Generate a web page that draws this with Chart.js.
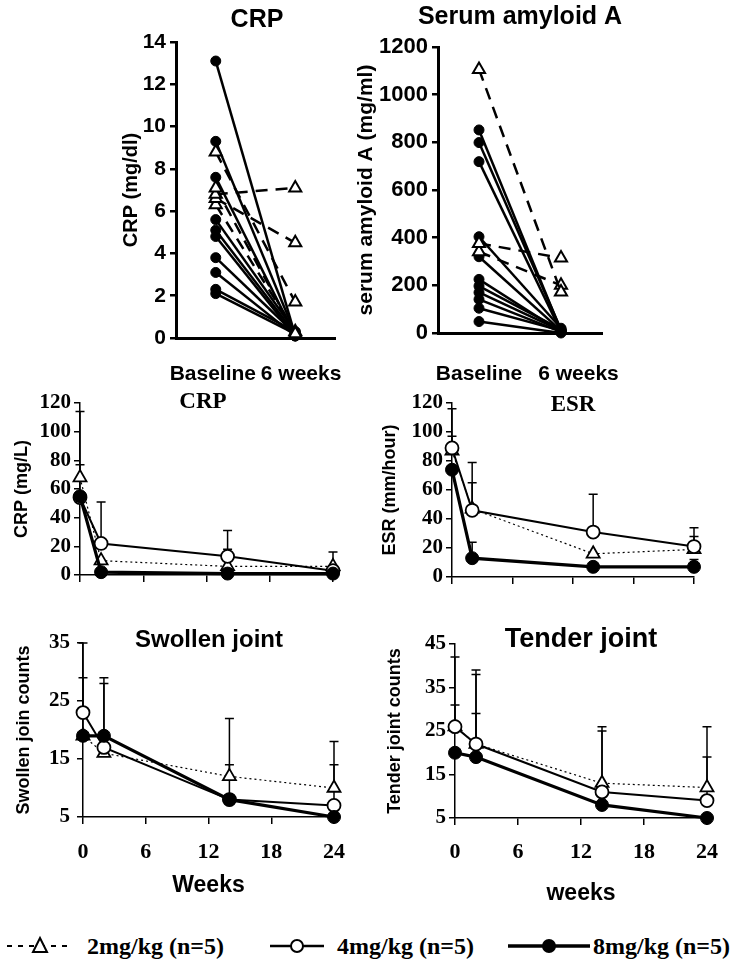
<!DOCTYPE html>
<html>
<head>
<meta charset="utf-8">
<title>CRP, SAA, ESR and joint counts by dose</title>
<script src="https://cdn.jsdelivr.net/npm/chart.js@4.4.1/dist/chart.umd.min.js"></script>
<style>
  html, body { margin: 0; padding: 0; background: #fff; }
  #page { position: relative; width: 735px; height: 966px; overflow: hidden; }
  #page canvas { position: absolute; }
  .legend-item {
    position: absolute; top: 932px; height: 28px;
    display: flex; align-items: center; white-space: nowrap;
    font: bold 24px 'Liberation Serif', 'Times New Roman', serif; color: #000;
  }
</style>
</head>
<body>
<div id="page">
  <canvas id="crpPair"></canvas>
  <canvas id="saaPair"></canvas>
  <canvas id="crpCourse"></canvas>
  <canvas id="esrCourse"></canvas>
  <canvas id="swollenCourse"></canvas>
  <canvas id="tenderCourse"></canvas>

  <div class="legend-item" style="left:5px">
    <svg width="70" height="24">
      <line x1="2" y1="12" x2="68" y2="12" stroke="#000" stroke-width="2" stroke-dasharray="5 6"/>
      <polygon points="35,4 42,18 28,18" fill="#fff" stroke="#000" stroke-width="2"/>
    </svg>
    <span style="margin-left:12px">2mg/kg (n=5)</span>
  </div>
  <div class="legend-item" style="left:268px">
    <svg width="58" height="24">
      <line x1="2" y1="12" x2="56" y2="12" stroke="#000" stroke-width="2.5"/>
      <circle cx="29" cy="12" r="6" fill="#fff" stroke="#000" stroke-width="2"/>
    </svg>
    <span style="margin-left:11px">4mg/kg (n=5)</span>
  </div>
  <div class="legend-item" style="left:507px">
    <svg width="84" height="24">
      <line x1="1" y1="12" x2="83" y2="12" stroke="#000" stroke-width="3.5"/>
      <circle cx="42" cy="12" r="7" fill="#000"/>
    </svg>
    <span style="margin-left:2px">8mg/kg (n=5)</span>
  </div>
</div>

<script>
const SANS = "'Liberation Sans', Arial, sans-serif";
const SERIF = "'Liberation Serif', 'Times New Roman', serif";

// paired panels: baseline vs 6 weeks, one line per patient
const pairLabels = ['Baseline', '6 weeks'];

const crpCircleBase = [13.1, 9.3, 7.6, 5.6, 5.1, 4.8, 3.8, 3.1, 2.3, 2.1];
const crpCircleWk6 = [0.1, 0.2, 0.1, 0.3, 0.2, 0.1, 0.2, 0.1, 0.3, 0.2];
const crpTriBase = [8.8, 7.1, 6.8, 6.6, 6.3];
const crpTriWk6 = [1.7, 0.2, 7.1, 4.5, 0.3];

const saaCircleBase = [852, 799, 719, 404, 320, 225, 197, 170, 141, 104, 48];
const saaCircleWk6 = [10, 15, 5, 20, 10, 5, 15, 10, 5, 10, 0];
const saaTriBase = [1106, 376, 341];
const saaTriWk6 = [172, 315, 200];

// follow-up panels: group means with upper SD bar tops (null = no bar drawn)
const weeks = [0, 2, 14, 24];

const crp2 = [68, 10, 6, 6];
const crp2Top = [77, null, 18, 16];
const crp4 = [54, 22, 13, 3];
const crp4Top = [114, 51, 31, null];
const crp8 = [55, 2, 1, 1];
const crp8Top = [null, null, null, null];

const esr2 = [87, 47, 16, 19];
const esr2Top = [97, 65, null, 28];
const esr4 = [89, 46, 31, 21];
const esr4Top = [116, 79, 57, 34];
const esr8 = [74, 13, 7, 7];
const esr8Top = [null, 24, null, 12];

const swollen2 = [19, 16, 12, 10];
const swollen2Top = [29, 29, 22, 18];
const swollen4 = [23, 17, 8, 7];
const swollen4Top = [35, 28, 14, 14];
const swollen8 = [19, 19, 8, 5];
const swollen8Top = [null, null, null, null];

const tender2 = [26, 22, 13, 12];
const tender2Top = [31, 38, 26, 26];
const tender4 = [26, 22, 11, 9];
const tender4Top = [42, 39, 25, 19];
const tender8 = [20, 19, 8, 5];
const tender8Top = [null, 29, null, null];

// draws the panel heading at a fixed spot on the canvas
const panelTitle = {
  id: 'panelTitle',
  afterDraw(chart, args, opts) {
    if (!opts.text) return;
    const ctx = chart.ctx;
    ctx.save();
    ctx.font = opts.font;
    ctx.fillStyle = '#000';
    ctx.textAlign = 'center';
    ctx.textBaseline = 'middle';
    ctx.fillText(opts.text, opts.x, opts.y);
    ctx.restore();
  }
};

// upper-only error bars, from the mean up to dataset.errorTop[i]
const errorBars = {
  id: 'errorBars',
  beforeDatasetsDraw(chart) {
    const { ctx } = chart;
    const yScale = chart.scales.y;
    chart.data.datasets.forEach((ds, i) => {
      if (!ds.errorTop) return;
      const meta = chart.getDatasetMeta(i);
      ds.errorTop.forEach((top, j) => {
        if (top == null) return;
        const pt = meta.data[j];
        const yTop = yScale.getPixelForValue(top);
        ctx.save();
        ctx.strokeStyle = '#000';
        ctx.lineWidth = 1.5;
        ctx.beginPath();
        ctx.moveTo(pt.x, pt.y);
        ctx.lineTo(pt.x, yTop);
        ctx.moveTo(pt.x - 4.5, yTop);
        ctx.lineTo(pt.x + 4.5, yTop);
        ctx.stroke();
        ctx.restore();
      });
    });
  }
};

function mount(id, box, area, config) {
  const canvas = document.getElementById(id);
  canvas.width = box.w;
  canvas.height = box.h;
  canvas.style.left = box.left + 'px';
  canvas.style.top = box.top + 'px';
  canvas.style.width = box.w + 'px';
  canvas.style.height = box.h + 'px';
  const yWidth = area.left - box.left;
  const xHeight = box.top + box.h - area.bottom;
  config.options.layout = {
    padding: { left: 0, top: area.top - box.top, right: box.left + box.w - area.right, bottom: 0 }
  };
  config.options.scales.x.afterFit = (s) => { s.height = xHeight; };
  config.options.scales.y.afterFit = (s) => { s.width = yWidth; };
  config.plugins = [panelTitle, errorBars];
  return new Chart(canvas, config);
}

const baseOptions = () => ({
  responsive: false,
  animation: false,
  devicePixelRatio: 1,
  events: [],
});

const circleLine = {
  borderColor: '#000', borderWidth: 2.5,
  pointStyle: 'circle', pointRadius: 5, pointBackgroundColor: '#000', pointBorderColor: '#000',
  pointBorderWidth: 1, clip: false, order: 1,
};
const triangleLine = {
  borderColor: '#000', borderWidth: 2.5, borderDash: [12, 8],
  pointStyle: 'triangle', pointRadius: 7, pointBackgroundColor: '#fff', pointBorderColor: '#000',
  pointBorderWidth: 2, clip: false, order: 0,
};

function pairedConfig(p) {
  const datasets = [
    ...p.triBase.map((b, i) => ({ data: [b, p.triWk6[i]], ...triangleLine })),
    ...p.circleBase.map((b, i) => ({ data: [b, p.circleWk6[i]], ...circleLine })),
  ];
  // no-break spaces nudge the two category labels apart, as in the printed figure
  const nb = (n) => '\u00A0'.repeat(n);
  const pad = (i) => (i === 0 ? pairLabels[0] + nb(p.trail) : nb(p.lead) + pairLabels[1]);
  return {
    type: 'line',
    data: { labels: pairLabels, datasets },
    options: {
      ...baseOptions(),
      plugins: {
        legend: { display: false },
        tooltip: { enabled: false },
        panelTitle: { text: p.title, font: `bold 25px ${SANS}`, x: p.titleX, y: p.titleY },
      },
      scales: {
        x: {
          type: 'category',
          offset: true,
          // hidden tick marks only push the labels down; ticks.padding would also widen the side margins
          grid: { display: false, drawTicks: true, tickLength: p.labelDrop },
          border: { display: true, color: '#000', width: 3 },
          ticks: {
            autoSkip: false, maxRotation: 0, color: '#000', padding: 0,
            font: { family: SANS, size: 21, weight: 'bold' },
            callback: (v, i) => pad(i),
          },
        },
        y: {
          min: 0, max: p.yMax,
          ticks: {
            stepSize: p.yStep, color: '#000', padding: 4,
            font: { family: SANS, size: p.tickSize, weight: 'bold' },
            callback: (v) => String(v),
          },
          grid: { drawOnChartArea: false, tickLength: 6, color: '#000', lineWidth: 2.5 },
          border: { color: '#000', width: 3 },
          title: {
            display: true, text: p.yTitle, color: '#000',
            font: { family: SANS, size: p.yTitleSize, weight: 'bold' },
            padding: { top: p.yTitlePad, bottom: 0 },
          },
        },
      },
    },
  };
}

function courseConfig(p) {
  const pts = (vals) => weeks.map((w, i) => ({ x: w, y: vals[i] }));
  const datasets = [
    {
      data: pts(p.low), errorTop: p.lowTop,
      borderColor: '#000', borderWidth: 1.2, borderDash: [2, 3],
      pointStyle: 'triangle', pointRadius: 7.5, pointBackgroundColor: '#fff',
      pointBorderColor: '#000', pointBorderWidth: 1.8, clip: false, order: 2,
    },
    {
      data: pts(p.mid), errorTop: p.midTop,
      borderColor: '#000', borderWidth: 2,
      pointStyle: 'circle', pointRadius: 6.5, pointBackgroundColor: '#fff',
      pointBorderColor: '#000', pointBorderWidth: 1.8, clip: false, order: 1,
    },
    {
      data: pts(p.high), errorTop: p.highTop,
      borderColor: '#000', borderWidth: 3.2,
      pointStyle: 'circle', pointRadius: 6.5, pointBackgroundColor: '#000',
      pointBorderColor: '#000', pointBorderWidth: 1, clip: false, order: 0,
    },
  ];
  return {
    type: 'line',
    data: { datasets },
    options: {
      ...baseOptions(),
      plugins: {
        legend: { display: false },
        tooltip: { enabled: false },
        panelTitle: { text: p.title, font: p.titleFont, x: p.titleX, y: p.titleY },
      },
      scales: {
        x: {
          type: 'linear', min: 0, max: 24,
          ticks: {
            stepSize: 6, display: p.showWeeks, color: '#000', padding: p.xPad,
            font: { family: SERIF, size: 22, weight: 'bold' },
          },
          grid: { drawOnChartArea: false, tickLength: 7, color: '#000', lineWidth: 1.5 },
          border: { color: '#000', width: 1.5 },
          title: {
            display: !!p.xTitle, text: p.xTitle, color: '#000',
            font: { family: SANS, size: 23, weight: 'bold' },
            padding: { top: 0, bottom: p.xTitlePad || 0 },
          },
        },
        y: {
          min: p.yMin, max: p.yMax,
          ticks: { stepSize: p.yStep, color: '#000', padding: p.yPad, font: { family: SERIF, size: 21, weight: 'bold' } },
          grid: { drawOnChartArea: false, tickLength: 6, color: '#000', lineWidth: 1.5 },
          border: { color: '#000', width: 1.5 },
          title: {
            display: true, text: p.yTitle, color: '#000',
            font: { family: SANS, size: 18, weight: 'bold' },
            padding: { top: p.yTitlePad, bottom: 0 },
          },
        },
      },
    },
  };
}

mount('crpPair',
  { left: 110, top: 0, w: 250, h: 392 },
  { left: 176, top: 42, right: 335, bottom: 338 },
  pairedConfig({
    circleBase: crpCircleBase, circleWk6: crpCircleWk6, triBase: crpTriBase, triWk6: crpTriWk6,
    yMax: 14, yStep: 2, tickSize: 21, yTitle: 'CRP (mg/dl)', yTitleSize: 20, yTitlePad: 9,
    title: 'CRP', titleX: 147, titleY: 20, labelDrop: 24, trail: 1, lead: 2,
  }));

mount('saaPair',
  { left: 354, top: 0, w: 381, h: 392 },
  { left: 438, top: 47, right: 602, bottom: 333 },
  pairedConfig({
    circleBase: saaCircleBase, circleWk6: saaCircleWk6, triBase: saaTriBase, triWk6: saaTriWk6,
    yMax: 1200, yStep: 200, tickSize: 22, yTitle: 'serum amyloid A (mg/ml)', yTitleSize: 21, yTitlePad: 0,
    title: 'Serum amyloid A', titleX: 166, titleY: 17, labelDrop: 29, trail: 0, lead: 6,
  }));

mount('crpCourse',
  { left: 0, top: 365, w: 365, h: 230 },
  { left: 80, top: 403, right: 333, bottom: 575 },
  courseConfig({
    low: crp2, lowTop: crp2Top, mid: crp4, midTop: crp4Top, high: crp8, highTop: crp8Top,
    yMin: 0, yMax: 120, yStep: 20, yPad: 3, yTitle: 'CRP (mg/L)', yTitlePad: 11,
    showWeeks: false, xPad: 0,
    title: 'CRP', titleFont: `bold 23px ${SERIF}`, titleX: 203, titleY: 37,
  }));

mount('esrCourse',
  { left: 365, top: 365, w: 370, h: 230 },
  { left: 452, top: 403, right: 694, bottom: 577 },
  courseConfig({
    low: esr2, lowTop: esr2Top, mid: esr4, midTop: esr4Top, high: esr8, highTop: esr8Top,
    yMin: 0, yMax: 120, yStep: 20, yPad: 3, yTitle: 'ESR (mm/hour)', yTitlePad: 14,
    showWeeks: false, xPad: 0,
    title: 'ESR', titleFont: `bold 23px ${SERIF}`, titleX: 208, titleY: 40,
  }));

mount('swollenCourse',
  { left: 0, top: 590, w: 365, h: 310 },
  { left: 83, top: 643, right: 334, bottom: 817 },
  courseConfig({
    low: swollen2, lowTop: swollen2Top, mid: swollen4, midTop: swollen4Top, high: swollen8, highTop: swollen8Top,
    yMin: 5, yMax: 35, yStep: 10, yPad: 7, yTitle: 'Swollen join counts', yTitlePad: 13,
    showWeeks: true, xPad: 15, xTitle: 'Weeks', xTitlePad: 1,
    title: 'Swollen joint', titleFont: `bold 24px ${SANS}`, titleX: 209, titleY: 50,
  }));

mount('tenderCourse',
  { left: 365, top: 590, w: 370, h: 320 },
  { left: 455, top: 644, right: 707, bottom: 818 },
  courseConfig({
    low: tender2, lowTop: tender2Top, mid: tender4, midTop: tender4Top, high: tender8, highTop: tender8Top,
    yMin: 5, yMax: 45, yStep: 10, yPad: 3, yTitle: 'Tender joint counts', yTitlePad: 19,
    showWeeks: true, xPad: 14, xTitle: 'weeks', xTitlePad: 3,
    title: 'Tender joint', titleFont: `bold 27px ${SANS}`, titleX: 216, titleY: 50,
  }));
</script>
</body>
</html>
